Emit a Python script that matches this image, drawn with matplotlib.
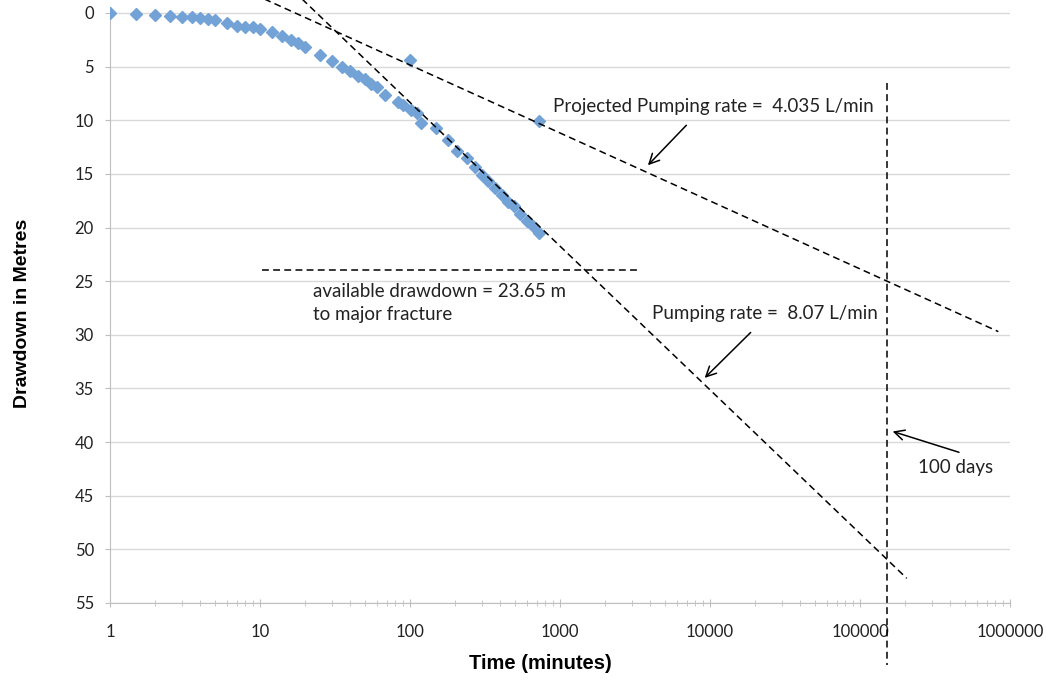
import numpy as np
import matplotlib
matplotlib.use('Agg')
import matplotlib.pyplot as plt
from matplotlib.ticker import FixedLocator, FuncFormatter, LogLocator

# observed drawdown (time in minutes, drawdown in m)
t_obs = [1, 1.5, 2, 2.5, 3, 3.5, 4, 4.5, 5, 6, 7, 8, 9, 10, 12, 14, 16, 18, 20,
         25, 30, 35, 40, 45, 50, 55, 60, 68, 83, 90, 102, 111, 119, 150, 180,
         205, 240, 270, 300, 333, 368, 408, 452, 490, 540, 600, 660, 720]
d_obs = [0, 0.1, 0.2, 0.27, 0.33, 0.4, 0.5, 0.55, 0.65, 0.96, 1.2, 1.3, 1.35,
         1.45, 1.8, 2.1, 2.5, 2.8, 3.2, 3.9, 4.5, 5.0, 5.4, 5.9, 6.2, 6.6, 6.9,
         7.6, 8.3, 8.6, 9.0, 9.35, 10.3, 10.75, 11.8, 12.9, 13.5, 14.4, 15.1,
         15.7, 16.3, 17.0, 17.6, 18.0, 18.7, 19.4, 19.9, 20.5]

# two points on the projected line
t_proj_pts = [100, 720]
d_proj_pts = [4.4, 10.1]

# straight-line projections (semi-log)
t_rate8 = [15, 205000]
d_rate8 = [-2.7, 52.7]
t_rate4 = [8, 836000]
d_rate4 = [-2.1, 29.7]

# available drawdown to fracture
t_avail = [10.3, 3330]
d_avail = [23.95, 23.95]

# 100 days marker
t_100d = [151000, 151000]
d_100d = [6.5, 60.8]

x_ticks = [1, 10, 100, 1000, 10000, 100000, 1000000]
y_ticks = list(range(0, 56, 5))

fig = plt.figure(figsize=(10.46, 6.81), dpi=100)
ax = fig.add_axes([110/1046, 78/681, 900/1046, 603/681])

lab_font = ['Lato', 'DejaVu Sans']
ax_font = ['Liberation Sans', 'DejaVu Sans']

ax.set_xscale('log')
ax.set_xlim(1, 1e6)
ax.set_ylim(55, -1.21)

for y in y_ticks:
    ax.axhline(y, color='#d9d9d9', lw=1, zorder=0)

ax.plot(t_obs, d_obs, ls='none', marker='D', ms=6, color='#72a2d6', mec='#72a2d6', zorder=3)
ax.plot(t_proj_pts, d_proj_pts, ls='none', marker='D', ms=6, color='#72a2d6', mec='#72a2d6', zorder=3)

dash = dict(color='black', lw=1.1, ls=(0, (4.5, 2.8)), zorder=4)
ax.plot(t_rate8, d_rate8, **dash)
ax.plot(t_rate4, d_rate4, **dash)
ax.plot(t_avail, d_avail, **dash)
ax.plot(t_100d, d_100d, clip_on=False, **dash)

arrow = dict(arrowstyle='->', color='black', lw=1.1, mutation_scale=18)
ax.annotate('', xy=(3743, 14.38), xytext=(7166, 10.28), arrowprops=arrow)
ax.annotate('', xy=(8940, 34.2), xytext=(19240, 29.6), arrowprops=arrow)
ax.annotate('', xy=(158500, 38.93), xytext=(476000, 41.03), arrowprops=arrow)

fs = 13.5
ax.text(898, 8.73, 'Projected Pumping rate =  4.035 L/min', family=lab_font,
        fontsize=fs, va='center', ha='left', color='#222222')
ax.text(4085, 28.05, 'Pumping rate =  8.07 L/min', family=lab_font,
        fontsize=fs, va='center', ha='left', color='#222222')
ax.text(244700, 42.34, '100 days', family=lab_font,
        fontsize=fs, va='center', ha='left', color='#222222')
ax.text(22.7, 27.06, 'available drawdown = 23.65 m\nto major fracture', family=lab_font,
        fontsize=fs, va='center', ha='left', color='#222222', linespacing=1.45)

# axes styling
for s in ['top', 'right']:
    ax.spines[s].set_visible(False)
ax.spines['left'].set_color('#bfbfbf')
ax.spines['bottom'].set_color('#bfbfbf')
ax.spines['left'].set_bounds(0, 55)

ax.xaxis.set_major_locator(FixedLocator(x_ticks))
ax.xaxis.set_minor_locator(LogLocator(base=10, subs=np.arange(2, 10), numticks=20))
ax.xaxis.set_major_formatter(FuncFormatter(lambda v, p: '%d' % round(v)))
ax.xaxis.set_minor_formatter(FuncFormatter(lambda v, p: ''))
ax.set_yticks(y_ticks)

ax.tick_params(axis='x', which='major', direction='inout', length=6, color='#bfbfbf', pad=12)
ax.tick_params(axis='x', which='minor', direction='inout', length=4, color='#bfbfbf')
ax.tick_params(axis='y', direction='out', length=3.6, color='#bfbfbf', pad=8)
for lab in ax.get_xticklabels() + ax.get_yticklabels():
    lab.set_family(lab_font)
    lab.set_fontsize(12)
    lab.set_color('#222222')

ax.set_xlabel('Time (minutes)', family=ax_font, fontsize=14.5, fontweight='bold')
ax.set_ylabel('Drawdown in Metres', family=ax_font, fontsize=14, fontweight='bold')
ax.xaxis.set_label_coords(0.478, -0.085)
ax.yaxis.set_label_coords(-0.088, 0.481)

fig.savefig('out.png', dpi=100)
